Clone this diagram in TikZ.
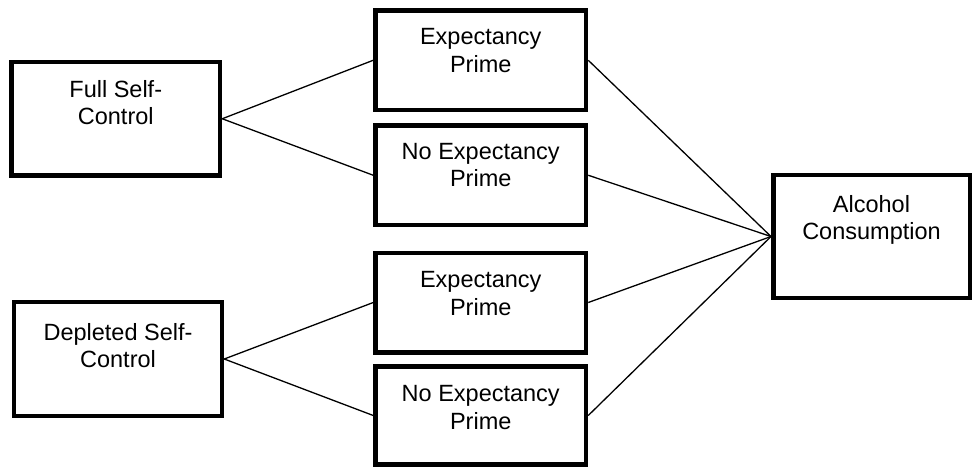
\documentclass[tikz,border=0pt]{standalone}
\usepackage{fontspec}
\setmainfont{Liberation Sans}
\usetikzlibrary{positioning}

\tikzset{
  cond/.style={draw, line width=4.5pt, minimum width=210.5pt, minimum height=99.5pt, inner sep=0pt},
  lbl/.style={align=center, inner sep=0pt, font=\fontsize{23.5}{27.5}\selectfont},
}

\begin{document}
\begin{tikzpicture}[x=1pt,y=-1pt,line width=1.3pt]
		  \useasboundingbox (0,0) rectangle (972,467);
		  \node[cond, minimum width=208.5pt, minimum height=113.5pt] (full) at (115.75,118.75) {};
		  \node[cond, minimum width=208pt, minimum height=114pt] (depl) at (118,359) {};
		  \node[cond] (exp_a)   at (480.75,60.25)  {};
		  \node[cond] (noexp_a) at (480.75,175.25) {};
		  \node[cond] (exp_b)   at (480.75,302.5)  {};
		  \node[cond, minimum height=98pt] (noexp_b) at (480.75,415.5) {};
		  \node[cond, minimum width=196.5pt, minimum height=123pt] (alc) at (871.5,236.5) {}; % outcome
		  \node[lbl, below=20pt of full.north]    (full_t)    {Full Self-\\Control};
		  \node[lbl, below=23pt of depl.north]    (depl_t)    {Depleted Self-\\Control};
		  \node[lbl, below=19.5pt of exp_a.north]   (exp_a_t)   {Expectancy\\Prime};
		  \node[lbl, below=19pt of noexp_a.north] (noexp_a_t) {No Expectancy\\Prime};
		  \node[lbl, below=20.5pt of exp_b.north]   (exp_b_t)   {Expectancy\\Prime};
		  \node[lbl, below=20.5pt of noexp_b.north] (noexp_b_t) {No Expectancy\\Prime};
		  \node[lbl, below=22pt of alc.north]     (alc_t)     {Alcohol\\Consumption};
		  \path  (full.east)  edge (exp_a.west);
		  \path  (full.east)  edge (noexp_a.west);
		  \path  (depl.east)  edge (exp_b.west);
		  \path  (depl.east)  edge (noexp_b.west);
		  \path  (exp_a.east)  edge (alc.west);
		  \path  (noexp_a.east)  edge (alc.west);
		  \path  (exp_b.east)  edge (alc.west);
		  \path  (noexp_b.east)  edge (alc.west);
		\end{tikzpicture}
\end{document}
